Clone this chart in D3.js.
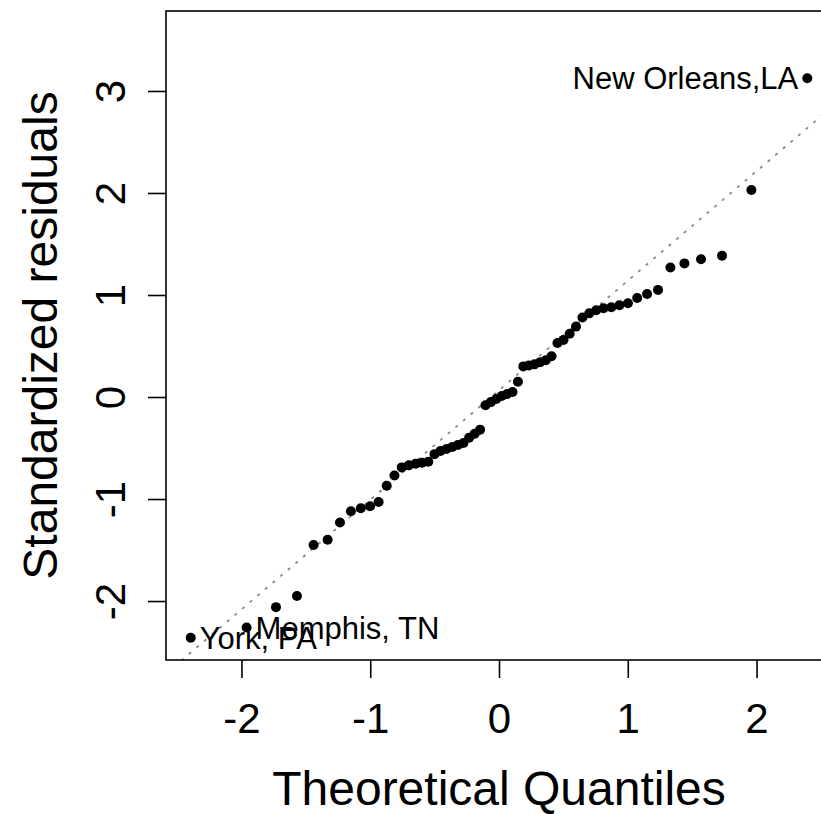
<!DOCTYPE html>
<html>
<head>
<meta charset="utf-8">
<script src="https://cdn.jsdelivr.net/npm/d3@7"></script>
<style>
  html, body { margin: 0; padding: 0; background: #fff; }
  svg { display: block; }
  text { font-family: "Liberation Sans", Arial, Helvetica, sans-serif; fill: #000; }
</style>
</head>
<body>
<script>
// Normal Q-Q plot of standardized residuals (60 cities)

// Theoretical normal quantiles, qnorm((i - 0.5) / 60)
const theoreticalQuantiles = [
  -2.394, -1.960, -1.732, -1.569, -1.440, -1.331, -1.235, -1.150, -1.073, -1.001,
  -0.935, -0.872, -0.812, -0.755, -0.701, -0.648, -0.598, -0.549, -0.501, -0.454,
  -0.408, -0.363, -0.319, -0.276, -0.232, -0.189, -0.147, -0.105, -0.063, -0.021,
   0.021,  0.063,  0.105,  0.147,  0.189,  0.232,  0.276,  0.319,  0.363,  0.408,
   0.454,  0.501,  0.549,  0.598,  0.648,  0.701,  0.755,  0.812,  0.872,  0.935,
   1.001,  1.073,  1.150,  1.235,  1.331,  1.440,  1.569,  1.732,  1.960,  2.394
];

// Sorted standardized residuals
const standardizedResiduals = [
  -2.36, -2.26, -2.06, -1.95, -1.45, -1.40, -1.23, -1.12, -1.09, -1.07,
  -1.03, -0.87, -0.77, -0.69, -0.67, -0.655, -0.645, -0.635, -0.56, -0.53,
  -0.51, -0.49, -0.47, -0.45, -0.40, -0.36, -0.32, -0.08, -0.05, -0.02,
   0.01,  0.03,  0.05,  0.15,  0.30,  0.31,  0.32,  0.34,  0.36,  0.40,
   0.53,  0.56,  0.62,  0.69,  0.78,  0.82,  0.85,  0.87,  0.88,  0.90,
   0.92,  0.97,  1.01,  1.05,  1.27,  1.31,  1.35,  1.385, 2.03, 3.125
];

// Labelled observations
const labelNames = ["York, PA", "Memphis, TN", "New Orleans,LA"];
const labelIndex = [0, 1, 59];
const labelSide  = ["right", "right", "left"];

// Axis ticks and titles
const xTicks = [-2, -1, 0, 1, 2];
const yTicks = [-2, -1, 0, 1, 2, 3];
const xTitle = "Theoretical Quantiles";
const yTitle = "Standardized residuals";

// Axis limits
const xDomain = [-2.586, 2.586];
const yDomain = [-2.578, 3.784];

const W = 821, H = 814;
const plot = { left: 166, top: 11, right: 832, bottom: 660 };

const x = d3.scaleLinear().domain(xDomain).range([plot.left, plot.right]);
const y = d3.scaleLinear().domain(yDomain).range([plot.bottom, plot.top]);

const svg = d3.select("body").append("svg")
  .attr("width", W).attr("height", H);

svg.append("defs").append("clipPath").attr("id", "plot-clip")
  .append("rect")
  .attr("x", plot.left).attr("y", plot.top)
  .attr("width", plot.right - plot.left).attr("height", plot.bottom - plot.top);

// Reference line through the first and third quartiles
const sortedRes = standardizedResiduals.slice().sort(d3.ascending);
const q1 = d3.quantile(sortedRes, 0.25);
const q3 = d3.quantile(sortedRes, 0.75);
const zq = 0.6744898; // qnorm(0.75)
const slope = (q3 - q1) / (2 * zq);
const intercept = (q1 + q3) / 2;

const clipped = svg.append("g").attr("clip-path", "url(#plot-clip)");

clipped.append("line")
  .attr("x1", x(xDomain[0])).attr("y1", y(intercept + slope * xDomain[0]))
  .attr("x2", x(xDomain[1])).attr("y2", y(intercept + slope * xDomain[1]))
  .attr("stroke", "#8a8a8a")
  .attr("stroke-width", 1.8)
  .attr("stroke-dasharray", "3 7");

// Points
const points = theoreticalQuantiles.map((q, i) => ({ q, r: standardizedResiduals[i] }));
clipped.selectAll("circle").data(points).enter().append("circle")
  .attr("cx", d => x(d.q))
  .attr("cy", d => y(d.r))
  .attr("r", 5)
  .attr("fill", "#000");

// Point labels
labelNames.forEach((name, k) => {
  const d = points[labelIndex[k]];
  const right = labelSide[k] === "right";
  svg.append("text")
    .attr("x", x(d.q) + (right ? 9 : -9))
    .attr("y", y(d.r) + 11)
    .attr("text-anchor", right ? "start" : "end")
    .attr("font-size", 31)
    .text(name);
});

// Plot frame
svg.append("rect")
  .attr("x", plot.left).attr("y", plot.top)
  .attr("width", plot.right - plot.left).attr("height", plot.bottom - plot.top)
  .attr("fill", "none").attr("stroke", "#000").attr("stroke-width", 1.6);

const fmt = d => String(d);

// Bottom axis
const xAxis = d3.axisBottom(x).tickValues(xTicks).tickSize(18).tickPadding(0)
  .tickFormat(fmt);
const gx = svg.append("g").attr("transform", `translate(0,${plot.bottom})`).call(xAxis);
gx.select(".domain").remove();
gx.selectAll(".tick line").attr("stroke", "#000").attr("stroke-width", 1.6);
gx.selectAll(".tick text")
  .attr("font-size", 42).attr("font-family", null)
  .attr("dy", null).attr("y", 73);

// Left axis (labels parallel to the axis)
const yAxis = d3.axisLeft(y).tickValues(yTicks).tickSize(18).tickPadding(0)
  .tickFormat(fmt);
const gy = svg.append("g").attr("transform", `translate(${plot.left},0)`).call(yAxis);
gy.select(".domain").remove();
gy.selectAll(".tick line").attr("stroke", "#000").attr("stroke-width", 1.6);
gy.selectAll(".tick text")
  .attr("font-size", 42).attr("font-family", null)
  .attr("x", null).attr("dy", null)
  .attr("text-anchor", "middle")
  .attr("transform", "translate(-41,0) rotate(-90)");

// Axis titles
svg.append("text")
  .attr("x", (plot.left + 832) / 2).attr("y", 805)
  .attr("text-anchor", "middle").attr("font-size", 48)
  .text(xTitle);

svg.append("text")
  .attr("transform", `translate(57,${(plot.top + plot.bottom) / 2}) rotate(-90)`)
  .attr("text-anchor", "middle").attr("font-size", 48)
  .text(yTitle);
</script>
</body>
</html>
